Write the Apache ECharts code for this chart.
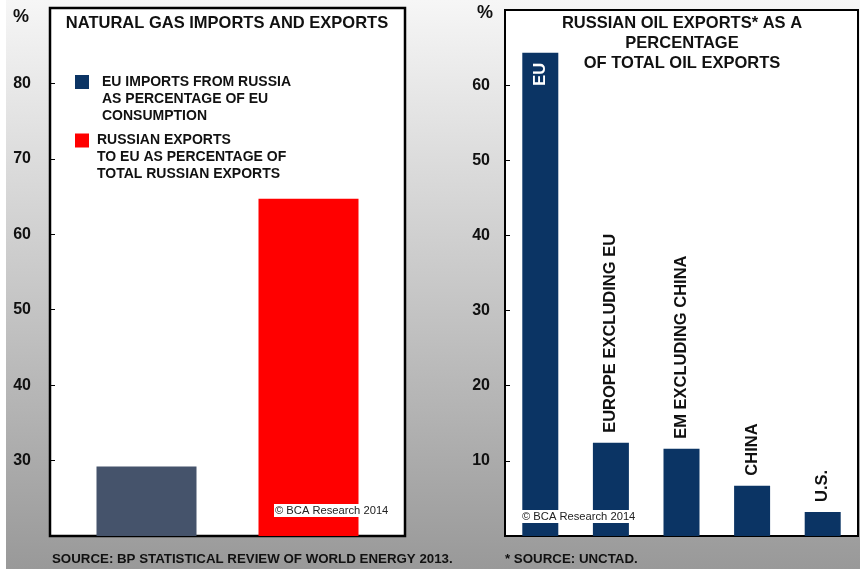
<!DOCTYPE html>
<html>
<head>
<meta charset="utf-8">
<script src="https://cdn.jsdelivr.net/npm/echarts@6/dist/echarts.min.js"></script>
<style>
html,body{margin:0;padding:0;background:#fff;}
#chart{width:860px;height:569px;}
</style>
</head>
<body>
<div id="chart"></div>
<script>
// ---- Data ----
const gasTitle = 'NATURAL GAS IMPORTS AND EXPORTS';
const gasCategories = ['2013'];
const gasSeriesNames = [
  'EU IMPORTS FROM RUSSIA\nAS PERCENTAGE OF EU\nCONSUMPTION',
  'RUSSIAN EXPORTS\nTO EU AS PERCENTAGE OF\nTOTAL RUSSIAN EXPORTS'
];
const gasEUImports = [29.2];
const gasRussianExports = [64.7];
const gasAxis = { min: 20, max: 90, interval: 10 };

const oilTitle = 'RUSSIAN OIL EXPORTS* AS A\nPERCENTAGE\nOF TOTAL OIL EXPORTS';
const oilCategories = ['EU', 'EUROPE EXCLUDING EU', 'EM EXCLUDING CHINA', 'CHINA', 'U.S.'];
const oilValues = [64.3, 12.4, 11.6, 6.7, 3.2];
const oilAxis = { min: 0, max: 70, interval: 10 };

const sourceLeft = 'SOURCE: BP STATISTICAL REVIEW OF WORLD ENERGY 2013.';
const sourceRight = '* SOURCE: UNCTAD.';
const copyright = '\u00A9 BCA Research 2014';

// ---- Styles ----
const FONT = 'Arial, "Liberation Sans", Helvetica, sans-serif';
const NAVY = '#0b3464';
const SLATE = '#45536b';
const RED = '#ff0000';
const INK = '#111111';

const chart = echarts.init(document.getElementById('chart'), null, { renderer: 'canvas' });

function yAxisCommon(cfg, idx) {
  return {
    type: 'value', gridIndex: idx,
    min: cfg.min, max: cfg.max, interval: cfg.interval,
    axisLine: { show: false },
    axisTick: { show: true, inside: true, length: 5, lineStyle: { color: '#000', width: 1 } },
    splitLine: { show: false },
    axisLabel: {
      showMinLabel: false, showMaxLabel: false,
      color: INK, fontFamily: FONT, fontWeight: 'bold', fontSize: 16,
      margin: idx === 0 ? 19 : 15
    }
  };
}

function xAxisCommon(cats, idx) {
  return {
    type: 'category', gridIndex: idx, data: cats,
    axisLine: { show: false }, axisTick: { show: false }, axisLabel: { show: false },
    splitLine: { show: false }
  };
}

const oilData = oilValues.map(function (v, i) {
  const isFirst = i === 0;
  return {
    value: v,
    label: isFirst ? {
      show: true, position: 'insideTop', rotate: 90, distance: 10,
      align: 'right', verticalAlign: 'middle', color: '#fff'
    } : {
      show: true, position: 'top', rotate: 90, distance: 10,
      align: 'left', verticalAlign: 'middle', color: INK
    }
  };
});

// Two blank lines in front keep the swatch level with the first line of text
function legendText(name) { return '\n\n' + name; }

const option = {
  animation: false,
  backgroundColor: '#ffffff',
  title: [
    {
      text: gasTitle, left: 227, top: 13, padding: 0, textAlign: 'center',
      textStyle: { fontFamily: FONT, fontWeight: 'bold', fontSize: 16.5, color: INK, lineHeight: 20 }
    },
    {
      text: oilTitle, left: 682, top: 13, padding: 0, textAlign: 'center',
      textStyle: { fontFamily: FONT, fontWeight: 'bold', fontSize: 16.5, color: INK, lineHeight: 20 }
    }
  ],
  legend: [
    {
      data: [{ name: gasSeriesNames[0], itemStyle: { color: NAVY } }],
      formatter: legendText,
      left: 75, top: 39.5, padding: 0, orient: 'vertical',
      icon: 'rect', itemWidth: 14, itemHeight: 14, selectedMode: false,
      textStyle: { fontFamily: FONT, fontWeight: 'bold', fontSize: 14, color: INK, lineHeight: 17, padding: [0, 0, 0, 8] }
    },
    {
      data: [{ name: gasSeriesNames[1], itemStyle: { color: RED } }],
      formatter: legendText,
      left: 75, top: 98, padding: 0, orient: 'vertical',
      icon: 'rect', itemWidth: 14, itemHeight: 14, selectedMode: false,
      textStyle: { fontFamily: FONT, fontWeight: 'bold', fontSize: 14, color: INK, lineHeight: 17, padding: [0, 0, 0, 3] }
    }
  ],
  grid: [
    { left: 50, right: 455, top: 8, bottom: 33, show: true, backgroundColor: '#ffffff', borderColor: '#000', borderWidth: 2.5, containLabel: false },
    { left: 505, right: 2, top: 10, bottom: 33, show: true, backgroundColor: '#ffffff', borderColor: '#000', borderWidth: 2, containLabel: false }
  ],
  xAxis: [xAxisCommon(gasCategories, 0), xAxisCommon(oilCategories, 1)],
  yAxis: [yAxisCommon(gasAxis, 0), yAxisCommon(oilAxis, 1)],
  series: [
    {
      type: 'bar', name: gasSeriesNames[0], xAxisIndex: 0, yAxisIndex: 0,
      data: gasEUImports, barWidth: 100, barGap: '62%',
      itemStyle: { color: SLATE }
    },
    {
      type: 'bar', name: gasSeriesNames[1], xAxisIndex: 0, yAxisIndex: 0,
      data: gasRussianExports, barWidth: 100, barGap: '62%',
      itemStyle: { color: RED }
    },
    {
      type: 'bar', name: 'Oil', xAxisIndex: 1, yAxisIndex: 1,
      data: oilData, barWidth: 36,
      itemStyle: { color: NAVY },
      label: {
        fontFamily: FONT, fontWeight: 'bold', fontSize: 16.5,
        formatter: function (p) { return oilCategories[p.dataIndex]; }
      }
    }
  ],
  graphic: [
    {
      type: 'rect', z: -10, silent: true,
      shape: { x: 6, y: 0, width: 854, height: 569 },
      style: {
        fill: new echarts.graphic.LinearGradient(0, 0, 0, 1, [
          { offset: 0, color: '#f6f6f6' },
          { offset: 0.5, color: '#c8c8c8' },
          { offset: 1, color: '#999999' }
        ])
      }
    },
    {
      type: 'text', left: 13, top: 8, z: 10,
      style: { text: '%', fontFamily: FONT, fontWeight: 'bold', fontSize: 18, fill: INK }
    },
    {
      type: 'text', left: 477, top: 4, z: 10,
      style: { text: '%', fontFamily: FONT, fontWeight: 'bold', fontSize: 18, fill: INK }
    },
    {
      type: 'text', left: 274, top: 504, z: 100,
      style: { text: copyright, fontFamily: FONT, fontSize: 11.2, fill: '#222', backgroundColor: '#fff', padding: [1, 1, 1, 1] }
    },
    {
      type: 'text', left: 521, top: 510, z: 100,
      style: { text: copyright, fontFamily: FONT, fontSize: 11.2, fill: '#222', backgroundColor: '#fff', padding: [1, 1, 1, 1] }
    },
    {
      type: 'text', left: 52, top: 553, z: 10,
      style: { text: sourceLeft, fontFamily: FONT, fontWeight: 'bold', fontSize: 13.3, fill: INK }
    },
    {
      type: 'text', left: 505, top: 553, z: 10,
      style: { text: sourceRight, fontFamily: FONT, fontWeight: 'bold', fontSize: 13.3, fill: INK }
    }
  ]
};

chart.setOption(option);
</script>
</body>
</html>
